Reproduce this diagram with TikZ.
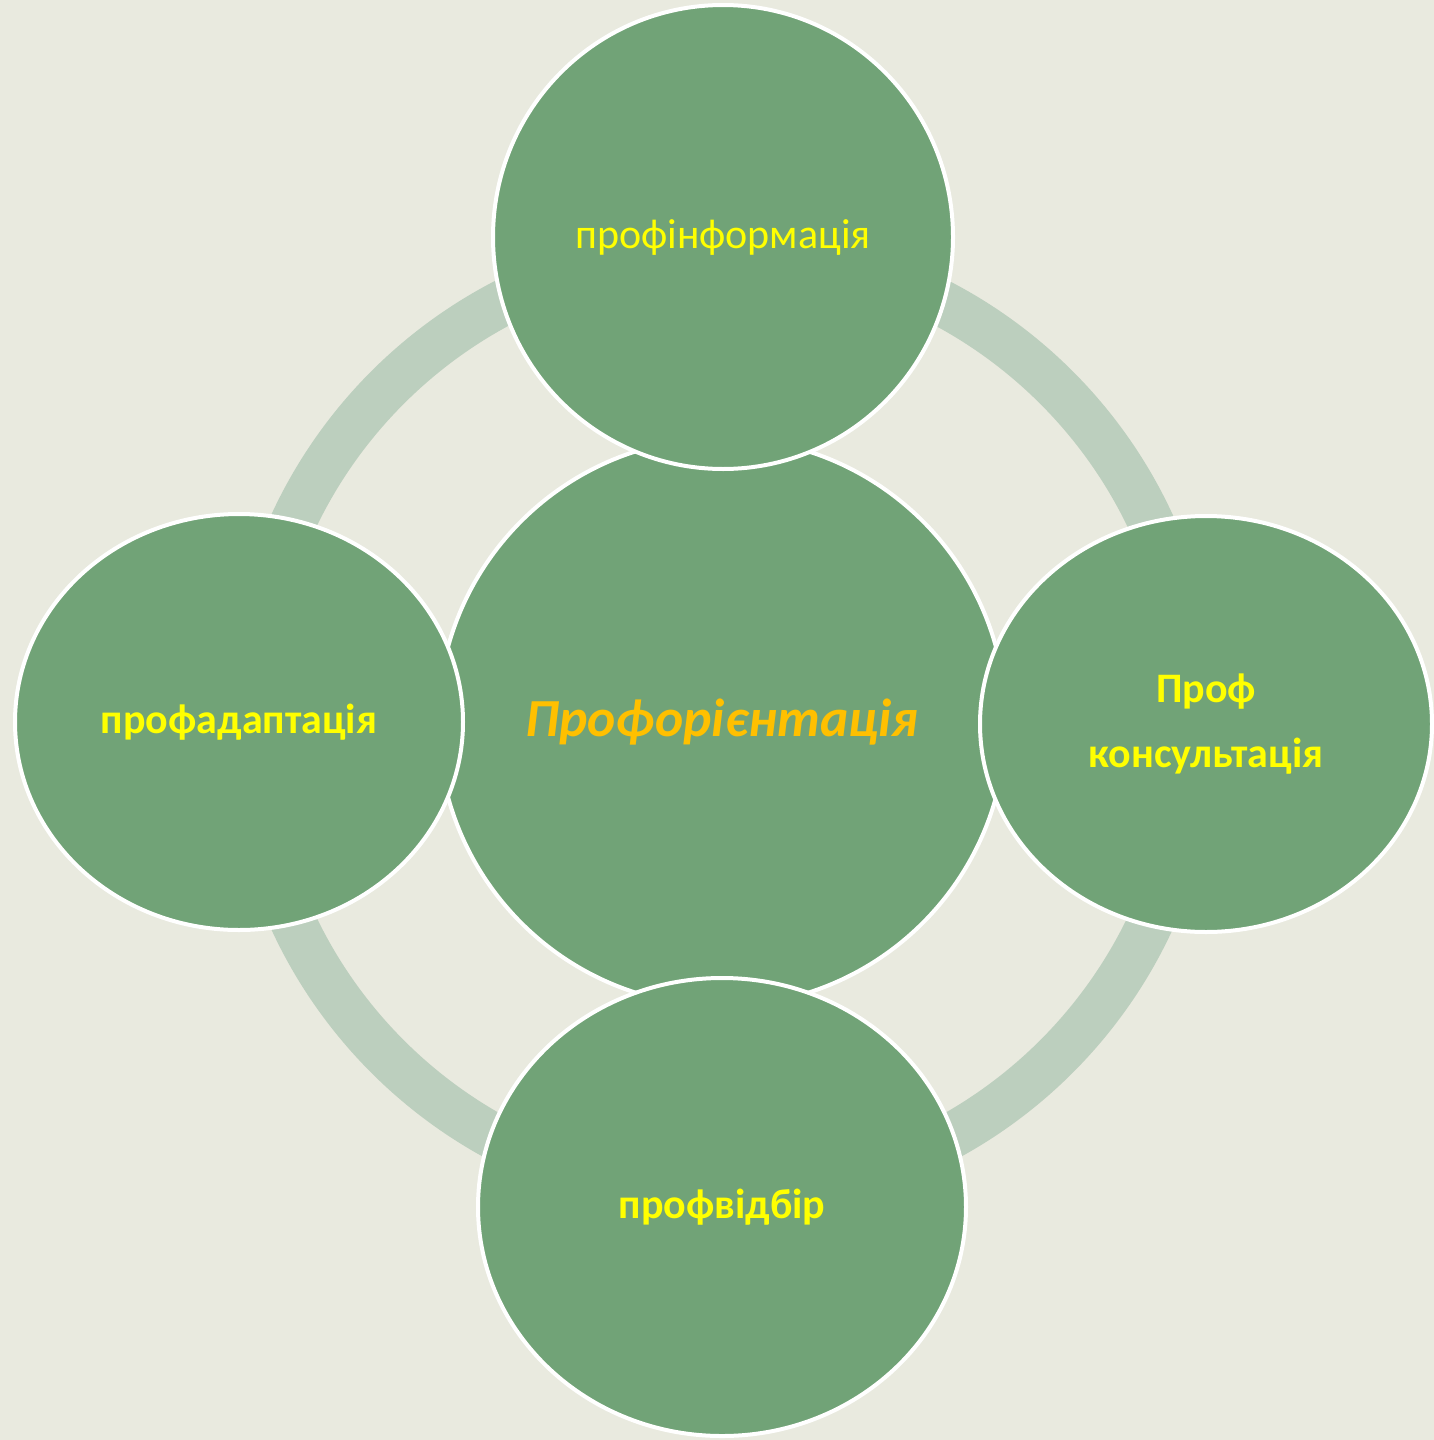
\documentclass[tikz,border=0pt]{standalone}
\usepackage{fontspec}
\setmainfont{Carlito}
\usepackage{xcolor}
\usetikzlibrary{positioning,shapes.geometric}

\definecolor{bgpaper}{HTML}{E9EADF}
\definecolor{leafgreen}{HTML}{71A377}
\definecolor{ringgreen}{HTML}{BCCFBE}
\definecolor{labelyellow}{HTML}{FFFF00}
\definecolor{titleorange}{HTML}{FFC000}

\tikzset{
  blob/.style={ellipse, draw=white, line width=2pt, fill=leafgreen,
    inner sep=0pt, align=center, text=labelyellow,
    font=\fontsize{21}{32.5}\selectfont},
  boldblob/.style={blob, font=\fontsize{21}{32.5}\selectfont\bfseries},
  hub/.style={blob, text=titleorange,
    font=\fontsize{26.8}{32}\selectfont\bfseries\itshape}
}

\begin{document}
\begin{tikzpicture}[
        x=0.5pt,y=-0.5pt,
        line cap=round,line join=round
        ]
        % ---- parameters
        \def\cx{722}
        \def\cy{722}
        \def\ringR{473}

        % page
        \fill[bgpaper] (0,0) rectangle (1434,1440);
        \useasboundingbox (0,0) rectangle (1434,1440);

        % ring
        \draw[ringgreen, line width=23pt] (\cx,\cy) circle[radius=\ringR];

        % centre
        \node[hub, minimum width=284pt, minimum height=284pt]
          (orient) at (\cx,\cy) {Профорієнтація};

        % satellites
        \node[blob, minimum width=230pt, minimum height=232pt]
          (info) at (723,237) {профінформація};
        \node[boldblob, minimum width=226pt, minimum height=208pt]
          (consult) at (1206,724) {Проф\\консультація};
        \node[boldblob, minimum width=244pt, minimum height=229pt]
          (select) at (722,1207) {профвідбір};
        \node[boldblob, minimum width=224pt, minimum height=208pt]
          (adapt) at (239,722) {профадаптація};
\end{tikzpicture}
\end{document}
